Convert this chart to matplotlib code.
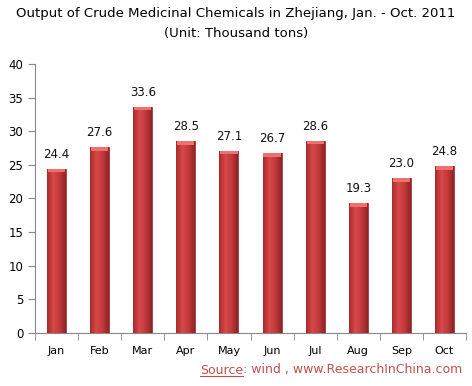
import matplotlib.pyplot as plt
import numpy as np
from matplotlib.colors import LinearSegmentedColormap
from matplotlib.lines import Line2D

months = ['Jan', 'Feb', 'Mar', 'Apr', 'May', 'Jun', 'Jul', 'Aug', 'Sep', 'Oct']
output = [24.4, 27.6, 33.6, 28.5, 27.1, 26.7, 28.6, 19.3, 23.0, 24.8]

fig = plt.figure(figsize=(4.72, 3.86), dpi=100)
ax = fig.add_axes([35 / 472, 1 - 333 / 386, 431 / 472, 269 / 386])

x = np.arange(len(months))
bars = ax.bar(x, output, width=0.44, color='#c0393b', edgecolor='#8e2426', linewidth=0.5, zorder=2)

# horizontal gradient on each bar to mimic the cylinder look
cmap = LinearSegmentedColormap.from_list('bar', ['#a82a2c', '#d8484a', '#c23a3c', '#8e2426'])
grad = np.linspace(0, 1, 64).reshape(1, -1)
for b in bars:
    x0, w, h = b.get_x(), b.get_width(), b.get_height()
    im = ax.imshow(grad, cmap=cmap, aspect='auto', extent=[x0, x0 + w, 0, h], zorder=3)
    im.set_clip_path(b)
    # lighter cap at the top
    ax.fill_between([x0 + 0.02, x0 + w - 0.02], h - 0.5, h, color='#f07070', zorder=4, lw=0)
    ax.text(x0 + w / 2, h + 1.2, f'{h:.1f}', ha='center', va='bottom', fontsize=8.5, color='#111111')

ax.set_xlim(-0.5, len(months) - 0.5)
ax.set_ylim(0, 40)
ax.set_yticks(np.arange(0, 41, 5))
ax.set_xticks(x)
ax.set_xticklabels(months)
ax.set_xticks(np.arange(-0.5, len(months), 1), minor=True)
ax.tick_params(axis='x', which='major', length=0, pad=9, labelsize=8)
ax.tick_params(axis='x', which='minor', length=5, color='#888888')
ax.tick_params(axis='y', length=5, color='#888888', labelsize=8.5)
for s in ['top', 'right']:
    ax.spines[s].set_visible(False)
for s in ['left', 'bottom']:
    ax.spines[s].set_color('#888888')

fig.text(0.5, 1 - 13 / 386, 'Output of Crude Medicinal Chemicals in Zhejiang, Jan. - Oct. 2011',
         ha='center', va='center', fontsize=9.5)
fig.text(0.5, 1 - 34 / 386, '(Unit: Thousand tons)', ha='center', va='center', fontsize=9.5)

# source line: "Source" underlined, rest plain
ys = 1 - 370 / 386
rest = fig.text(462 / 472, ys, ': wind , www.ResearchInChina.com', ha='right', va='center',
                fontsize=9, color='#c0504d')
fig.canvas.draw()
left = rest.get_window_extent().x0 / fig.bbox.width
src = fig.text(left, ys, 'Source', ha='right', va='center', fontsize=9, color='#c0504d')
fig.canvas.draw()
sb = src.get_window_extent()
uy = (sb.y0 + 1) / fig.bbox.height
fig.add_artist(Line2D([sb.x0 / fig.bbox.width, sb.x1 / fig.bbox.width], [uy, uy],
                      transform=fig.transFigure, color='#c0504d', lw=0.8))

fig.savefig('out.png', dpi=100)
